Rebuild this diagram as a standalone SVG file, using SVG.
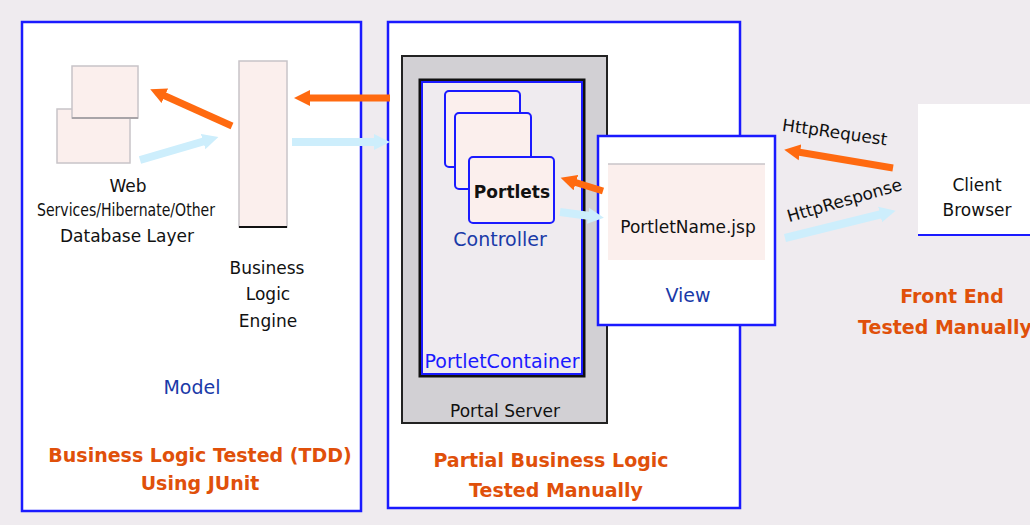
<svg xmlns="http://www.w3.org/2000/svg" width="1030" height="525" viewBox="0 0 1030 525">
  <style>
    .panel { fill: #ffffff; stroke: #1a1aff; stroke-width: 2.5; }
    .pink { fill: #fbefed; stroke: #c8c4c8; stroke-width: 1.5; }
    .card { fill: #fbefed; stroke: #1a1aff; stroke-width: 2; }
    .lbl { font-family: "DejaVu Sans", Verdana, sans-serif; font-size: 17px; fill: #111111; text-anchor: middle; }
    .blue { font-family: "DejaVu Sans", Verdana, sans-serif; font-size: 19px; fill: #1a3aa8; text-anchor: middle; }
    .note { font-family: "DejaVu Sans", Verdana, sans-serif; font-size: 19px; font-weight: bold; fill: #e0500a; text-anchor: middle; }
    .req { stroke: #ff6a10; stroke-width: 7; fill: none; }
    .resp { stroke: #cdeefc; stroke-width: 8; fill: none; }
  </style>
  <defs>
    <marker id="headOrange" markerUnits="userSpaceOnUse" markerWidth="18" markerHeight="18" refX="2" refY="9" orient="auto">
      <path d="M0,1 L16,9 L0,17 Z" fill="#ff6a10"/>
    </marker>
    <marker id="headBlue" markerUnits="userSpaceOnUse" markerWidth="18" markerHeight="18" refX="2" refY="9" orient="auto">
      <path d="M0,1 L16,9 L0,17 Z" fill="#cdeefc"/>
    </marker>
  </defs>

  <rect x="0" y="0" width="1030" height="525" fill="#efebef"/>

  <!-- Model panel -->
  <g id="model-panel">
    <rect class="panel" x="22" y="22" width="339" height="489"/>
    <text class="blue" x="192" y="394">Model</text>
    <text class="note" x="200" y="462">Business Logic Tested (TDD)</text>
    <text class="note" x="200" y="490">Using JUnit</text>
  </g>

  <!-- Data layer -->
  <g id="data-layer">
    <rect class="pink" x="57" y="109" width="73" height="54"/>
    <rect class="pink" x="72" y="66" width="66" height="52"/>
    <line x1="72" y1="118" x2="138" y2="118" stroke="#a8a4a8" stroke-width="2"/>
    <text class="lbl" x="128" y="192">Web</text>
    <text class="lbl" x="126" y="216" textLength="178" lengthAdjust="spacingAndGlyphs">Services/Hibernate/Other</text>
    <text class="lbl" x="127" y="242">Database Layer</text>
  </g>

  <!-- Business logic engine -->
  <g id="logic-engine">
    <rect class="pink" x="239" y="61" width="48" height="166"/>
    <line x1="239" y1="227" x2="287" y2="227" stroke="#111" stroke-width="2"/>
    <text class="lbl" x="267" y="274">Business</text>
    <text class="lbl" x="268" y="300">Logic</text>
    <text class="lbl" x="268" y="327">Engine</text>
  </g>

  <!-- Middle panel -->
  <g id="partial-panel">
    <rect class="panel" x="388" y="22" width="352" height="486"/>
    <text class="note" x="551" y="467">Partial Business Logic</text>
    <text class="note" x="556" y="497">Tested Manually</text>
  </g>

  <!-- Portal server -->
  <g id="portal-server">
    <rect x="402" y="56" width="205" height="367" fill="#d2d0d4" stroke="#222" stroke-width="2"/>
    <text class="lbl" x="505" y="417">Portal Server</text>
  </g>

  <!-- Portlet container -->
  <g id="portlet-container">
    <rect x="420" y="80" width="164" height="296" fill="none" stroke="#111" stroke-width="3"/>
    <rect x="422" y="82" width="160" height="292" fill="#efebef" stroke="#1a1aff" stroke-width="2"/>
    <text class="blue" x="502" y="368" font-size="17" style="fill:#1a1aff">PortletContainer</text>
  </g>

  <!-- Controller -->
  <g id="controller">
    <rect class="card" x="445" y="91" width="75" height="76" rx="4"/>
    <rect class="card" x="455" y="113" width="76" height="76" rx="4"/>
    <rect class="card" x="469" y="157" width="85" height="66" rx="4"/>
    <text class="lbl" x="512" y="198" font-weight="bold" font-size="16">Portlets</text>
    <text class="blue" x="500" y="246">Controller</text>
  </g>

  <!-- View -->
  <g id="view">
    <rect x="598" y="136" width="177" height="189" fill="#ffffff" stroke="#1a1aff" stroke-width="2.5"/>
    <rect x="608" y="164" width="157" height="96" fill="#fbefed"/>
    <line x1="608" y1="164" x2="765" y2="164" stroke="#c8c4c8" stroke-width="1.5"/>
    <text class="lbl" x="688" y="233">PortletName.jsp</text>
    <text class="blue" x="688" y="302">View</text>
  </g>

  <!-- Client browser -->
  <g id="client-browser">
    <rect x="918" y="104" width="112" height="131" fill="#ffffff"/>
    <line x1="918" y1="235" x2="1030" y2="235" stroke="#1a1aff" stroke-width="2"/>
    <text class="lbl" x="977" y="191">Client</text>
    <text class="lbl" x="977" y="216">Browser</text>
    <text class="note" x="952" y="303">Front End</text>
    <text class="note" x="945" y="334">Tested Manually</text>
  </g>

  <!-- Request / response connectors -->
  <g id="connectors">
    <path class="req" d="M232,126 L163,95" marker-end="url(#headOrange)"/>
    <path class="resp" d="M140,160 L205,141" marker-end="url(#headBlue)"/>
    <path class="req" d="M390,98 L308,98" marker-end="url(#headOrange)"/>
    <path class="resp" d="M292,142 L376,142" marker-end="url(#headBlue)"/>
    <path class="req" d="M603,191 L574,182" marker-end="url(#headOrange)"/>
    <path class="resp" d="M560,212 L590,216" marker-end="url(#headBlue)"/>
    <path class="req" d="M893,168 L798,152" marker-end="url(#headOrange)"/>
    <path class="resp" d="M785,238 L882,214" marker-end="url(#headBlue)"/>
    <text class="lbl" x="834" y="138" font-size="14" transform="rotate(8 834 138)">HttpRequest</text>
    <text class="lbl" x="846" y="206" font-size="14" transform="rotate(-16 846 206)">HttpResponse</text>
  </g>
</svg>
